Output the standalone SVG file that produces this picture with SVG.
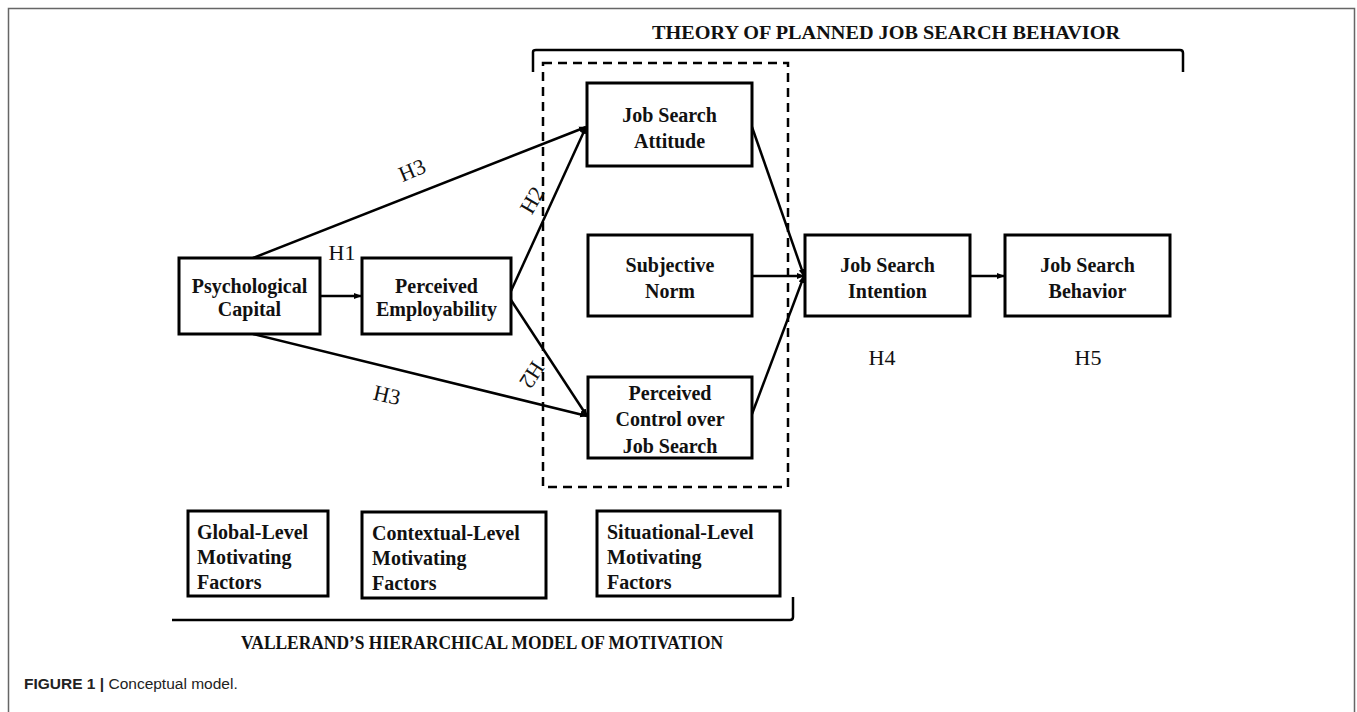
<svg xmlns="http://www.w3.org/2000/svg" width="1357" height="712" viewBox="0 0 1357 712">
<defs>
<style>
.box{fill:#fff;stroke:#000;stroke-width:3}
.t{font-family:"Liberation Serif","Times New Roman",serif;font-weight:bold;font-size:20px;fill:#111;text-anchor:middle}
.tl{font-family:"Liberation Serif","Times New Roman",serif;font-weight:bold;font-size:20px;fill:#111}
.h{font-family:"Liberation Serif","Times New Roman",serif;font-size:22px;fill:#111;text-anchor:middle;dominant-baseline:central}
.hdr{font-family:"Liberation Serif","Times New Roman",serif;font-weight:bold;font-size:18px;fill:#111;text-anchor:middle}
.ln{stroke:#000;stroke-width:2.5;fill:none}
.br{stroke:#000;stroke-width:2.5;fill:none}
</style>
<marker id="arr" markerWidth="8" markerHeight="8" refX="7" refY="4" orient="auto" markerUnits="userSpaceOnUse">
<path d="M0,1 L8,4 L0,7 Z" fill="#000"/>
</marker>
</defs>
<rect width="1357" height="712" fill="#fff"/>
<path d="M8.5,712 V8.5 H1354.5 V712" fill="none" stroke="#666" stroke-width="1.5"/>

<g id="frame-labels">
<text class="hdr" x="886" y="39" textLength="468" lengthAdjust="spacingAndGlyphs">THEORY OF PLANNED JOB SEARCH BEHAVIOR</text>
<path class="br" d="M533,72 V52 Q533,50 536,50 H1180 Q1183,50 1183,53 V72"/>
<rect x="543" y="63" width="245" height="424" fill="none" stroke="#000" stroke-width="2.5" stroke-dasharray="9,6"/>
<path class="br" d="M172,620 H790 Q793,620 793,617 V597"/>
<text class="hdr" x="482" y="649" textLength="482" lengthAdjust="spacingAndGlyphs">VALLERAND’S HIERARCHICAL MODEL OF MOTIVATION</text>
</g>

<g id="connectors">
<line class="ln" x1="320" y1="296" x2="361" y2="296" marker-end="url(#arr)"/>
<line class="ln" x1="253" y1="258" x2="586" y2="127" marker-end="url(#arr)"/>
<line class="ln" x1="511" y1="291" x2="586" y2="127" marker-end="url(#arr)"/>
<line class="ln" x1="253" y1="334" x2="587" y2="416" marker-end="url(#arr)"/>
<line class="ln" x1="511" y1="300" x2="587" y2="416" marker-end="url(#arr)"/>
<line class="ln" x1="752" y1="127" x2="804" y2="276" marker-end="url(#arr)"/>
<line class="ln" x1="752" y1="276" x2="804" y2="276" marker-end="url(#arr)"/>
<line class="ln" x1="752" y1="414" x2="804" y2="276" marker-end="url(#arr)"/>
<line class="ln" x1="970" y1="276" x2="1004" y2="276" marker-end="url(#arr)"/>
<text class="h" x="342" y="252">H1</text>
<text class="h" transform="translate(412,170) rotate(-23)">H3</text>
<text class="h" transform="translate(532,200) rotate(-60)">H2</text>
<text class="h" transform="translate(387,395) rotate(13)">H3</text>
<text class="h" transform="translate(532,375) rotate(123)">H2</text>
<text class="h" x="882" y="357">H4</text>
<text class="h" x="1088" y="357">H5</text>
</g>

<g id="psychological-capital">
<rect class="box" x="179" y="258" width="141" height="76"/>
<text class="t" x="249.5" y="293" font-size="17">Psychological</text>
<text class="t" x="249.5" y="316" font-size="17">Capital</text>
</g>
<g id="perceived-employability">
<rect class="box" x="362" y="258" width="149" height="76"/>
<text class="t" x="436.5" y="293" font-size="17">Perceived</text>
<text class="t" x="436.5" y="316" font-size="17">Employability</text>
</g>
<g id="job-search-attitude">
<rect class="box" x="587" y="83" width="165" height="83"/>
<text class="t" x="669.5" y="122">Job Search</text>
<text class="t" x="669.5" y="148">Attitude</text>
</g>
<g id="subjective-norm">
<rect class="box" x="588" y="235" width="164" height="81"/>
<text class="t" x="670" y="272">Subjective</text>
<text class="t" x="670" y="298">Norm</text>
</g>
<g id="perceived-control">
<rect class="box" x="588" y="377" width="164" height="81"/>
<text class="t" x="670" y="400">Perceived</text>
<text class="t" x="670" y="426">Control over</text>
<text class="t" x="670" y="453">Job Search</text>
</g>
<g id="job-search-intention">
<rect class="box" x="805" y="235" width="165" height="81"/>
<text class="t" x="887.5" y="272">Job Search</text>
<text class="t" x="887.5" y="298">Intention</text>
</g>
<g id="job-search-behavior">
<rect class="box" x="1005" y="235" width="165" height="81"/>
<text class="t" x="1087.5" y="272">Job Search</text>
<text class="t" x="1087.5" y="298">Behavior</text>
</g>
<g id="global-level">
<rect class="box" x="188" y="511" width="140" height="85"/>
<text class="tl" x="197" y="539">Global-Level</text>
<text class="tl" x="197" y="564">Motivating</text>
<text class="tl" x="197" y="589">Factors</text>
</g>
<g id="contextual-level">
<rect class="box" x="362" y="512" width="184" height="86"/>
<text class="tl" x="372" y="540">Contextual-Level</text>
<text class="tl" x="372" y="565">Motivating</text>
<text class="tl" x="372" y="590">Factors</text>
</g>
<g id="situational-level">
<rect class="box" x="597" y="511" width="183" height="85"/>
<text class="tl" x="607" y="539">Situational-Level</text>
<text class="tl" x="607" y="564">Motivating</text>
<text class="tl" x="607" y="589">Factors</text>
</g>
<g id="caption">
<text x="24" y="689" font-family="'Liberation Sans',Arial,sans-serif" font-size="15.5" fill="#222"><tspan font-weight="bold">FIGURE 1 |</tspan> Conceptual model.</text>
</g>
</svg>
